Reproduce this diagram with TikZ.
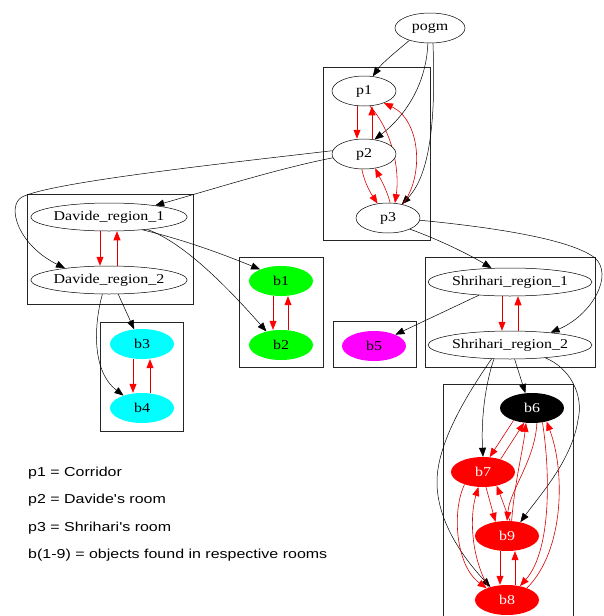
\documentclass[tikz,border=0pt]{standalone}
\usepackage{fontspec}
\setmainfont[FakeStretch=1.18]{Liberation Serif}
\newfontfamily\legendfont[FakeStretch=1.23]{Liberation Sans}
\usetikzlibrary{shapes.geometric,arrows.meta}
\pgfdeclarelayer{background}
\pgfsetlayers{background,main}
\definecolor{objgreen}{RGB}{0,255,0}
\definecolor{objcyan}{RGB}{0,255,255}
\definecolor{objmagenta}{RGB}{255,0,255}
\definecolor{objred}{RGB}{255,0,0}

\begin{document}
\begin{tikzpicture}[x=1pt,y=-1pt,
  every node/.style={ellipse, inner sep=0pt, minimum height=30pt,
                     font=\fontsize{13.5}{16}\selectfont},
  place/.style={draw=black, line width=0.5pt, fill=white, minimum width=64pt},
  region/.style={draw=black, line width=0.5pt, fill=white, minimum width=149pt, minimum height=28pt},
  obj/.style={fill=#1, minimum width=64pt},
  cluster/.style={draw=black!85, line width=0.6pt},
  link/.style={draw=black, line width=0.5pt, -{Triangle[length=9pt,width=7pt]}},
  mutual/.style={draw=red!85!black, line width=0.6pt, -{Triangle[length=9pt,width=7pt,color=objred]}},
  legend/.style={rectangle, anchor=base west, minimum height=0pt,
                 font=\legendfont\fontsize{13}{15}\selectfont}
]
\useasboundingbox (0,0) rectangle (603,616);
\clip (0,0) rectangle (603,616);

% places
\node[place, minimum width=70pt] (pogm) at (430,28) {pogm};
\node[place] (p1) at (364,91) {p1};
\node[place] (p2) at (364,154) {p2};
\node[place] (p3) at (388,218) {p3};

% regions
\node[region] (D1) at (109,217) {Davide\_region\_1};
\node[region] (D2) at (109,280) {Davide\_region\_2};
\node[region, minimum width=150pt] (S1) at (510,282) {Shrihari\_region\_1};
\node[region, minimum width=150pt] (S2) at (510,345) {Shrihari\_region\_2};

% objects
\node[obj=objgreen] (b1) at (281,281) {b1};
\node[obj=objgreen] (b2) at (281,345) {b2};
\node[obj=objcyan] (b3) at (142,344) {b3};
\node[obj=objcyan] (b4) at (142,408) {b4};
\node[obj=objmagenta] (b5) at (374,346) {b5};
\node[obj=black, text=white] (b6) at (532,408) {b6};
\node[obj=objred, text=white] (b7) at (483,472) {b7};
\node[obj=objred, text=white] (b9) at (507,536) {b9};
\node[obj=objred, text=white] (b8) at (507,600) {b8};

% legend
\node[legend] (l1) at (28,476) {p1 = Corridor};
\node[legend] (l2) at (28,503.5) {p2 = Davide's room};
\node[legend] (l3) at (28,531) {p3 = Shrihari's room};
\node[legend] (l4) at (28,558.5) {b(1-9) = objects found in respective rooms};

\begin{pgfonlayer}{background}
\fill[white] (0,0) rectangle (603,616);
% clusters
\draw[cluster] (323,67) rectangle (430,240);
\draw[cluster] (27,194) rectangle (193,304);
\draw[cluster] (239,257) rectangle (323,367);
\draw[cluster] (100,322) rectangle (183,431);
\draw[cluster] (333,321) rectangle (416,367);
\draw[cluster] (425,257) rectangle (595,367);
\draw[cluster] (443,384) rectangle (573,630);

% pogm to the places
\draw[link] (pogm.211) .. controls (398,50) and (382,63) .. (p1.59);
\draw[link] (pogm.262) .. controls (426,90) and (400,120) .. (p2.54);
\draw[link] (pogm.281) .. controls (436,120) and (430,175) .. (p3.45);

% between places
\draw[mutual] ([xshift=-7pt]p1.south) -- ([xshift=-7pt]p2.north);
\draw[mutual] ([xshift=8pt]p2.north) -- ([xshift=8pt]p1.south);
\draw[mutual] (p2.262) .. controls (365,185) and (372,195) .. (p3.126);
\draw[mutual] (p3.82) .. controls (387,190) and (380,178) .. (p2.308);
\draw[mutual] (p1.291) .. controls (392,130) and (400,170) .. (p3.65);
\draw[mutual] (p3.43) .. controls (425,175) and (420,120) .. (p1.329);

% p2 to Davide's regions
\draw[link] (p2.187) .. controls (280,168) and (210,190) .. (D1.14);
\draw[link] (p2.174) .. controls (200,166) and (50,183) .. (22,197)
            .. controls (6,206) and (18,245) .. (D2.165);
\draw[mutual] ([xshift=-9pt]D1.south) -- ([xshift=-9pt]D2.north);
\draw[mutual] ([xshift=8pt]D2.north) -- ([xshift=8pt]D1.south);

% Davide's regions to objects
\draw[link] (D1.339) .. controls (185,240) and (225,255) .. (b1.151);
\draw[link] (D1.342) .. controls (185,243) and (230,290) .. (b2.137);
\draw[mutual] ([xshift=-8pt]b1.south) -- ([xshift=-8pt]b2.north);
\draw[mutual] ([xshift=7pt]b2.north) -- ([xshift=7pt]b1.south);
\draw[link] (D2.303) -- (b3.118);
\draw[link] (D2.245) .. controls (95,320) and (90,370) .. (b4.146);
\draw[mutual] ([xshift=-9pt]b3.south) -- ([xshift=-9pt]b4.north);
\draw[mutual] ([xshift=8pt]b4.north) -- ([xshift=8pt]b3.south);

% p3 to Shrihari's regions
\draw[link] (p3.333) .. controls (440,240) and (470,255) .. (S1.143);
\draw[link] (p3.356) .. controls (500,228) and (572,240) .. (595,258)
            .. controls (614,275) and (592,315) .. (S2.17);
\draw[mutual] ([xshift=-8pt]S1.south) -- ([xshift=-8pt]S2.north);
\draw[mutual] ([xshift=8pt]S2.north) -- ([xshift=8pt]S1.south);
\draw[link] (S1.203) -- (b5.28);

% Shrihari's region 2 to objects
\draw[link] (S2.288) -- (b6.114);
\draw[link] (S2.221) .. controls (485,385) and (481,420) .. (b7.90);
\draw[link] (S2.217) .. controls (470,390) and (438,440) .. (437,480)
            .. controls (436,525) and (470,565) .. (b8.142);
\draw[link] (S2.340) .. controls (570,368) and (584,395) .. (578,420)
            .. controls (572,460) and (540,495) .. (b9.46);

% among objects b6 to b9
\draw[mutual] (b6.214) -- (b7.66);
\draw[mutual] (b7.36) -- (b6.242);
\draw[mutual] (b7.281) -- (b9.129);
\draw[mutual] (b9.79) -- (b7.315);
\draw[mutual] ([xshift=-7pt]b9.south) -- ([xshift=-7pt]b8.north);
\draw[mutual] ([xshift=8pt]b8.north) -- ([xshift=8pt]b9.south);
\draw[mutual] (b6.288) .. controls (535,460) and (510,490) .. (b9.90);
\draw[mutual] (b9.73) .. controls (515,480) and (523,450) .. (b6.248);
\draw[mutual] (b7.214) .. controls (452,510) and (455,565) .. (b8.150);
\draw[mutual] (b8.146) .. controls (470,555) and (470,515) .. (b7.253);
\draw[mutual] (b6.306) .. controls (550,470) and (552,550) .. (b8.47);
\draw[mutual] (b8.31) .. controls (565,550) and (565,470) .. (b6.317);
\end{pgfonlayer}
\end{tikzpicture}
\end{document}
